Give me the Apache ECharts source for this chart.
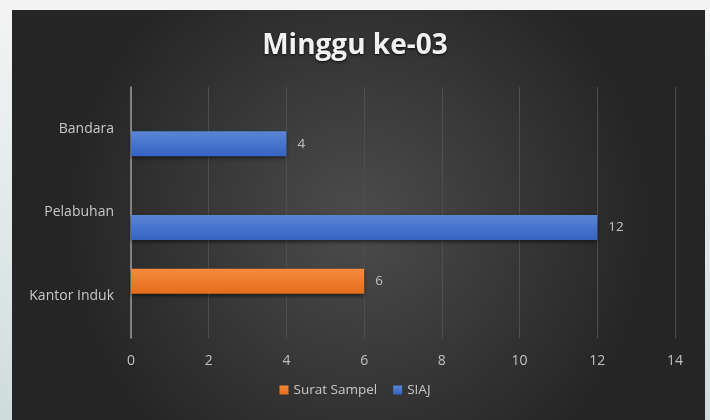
<!DOCTYPE html>
<html>
<head>
<meta charset="utf-8">
<script src="https://cdn.jsdelivr.net/npm/echarts@6/dist/echarts.min.js"></script>
<style>
  html, body { margin: 0; padding: 0; }
  #ec { width: 710px; height: 420px; }
</style>
</head>
<body>
<div id="ec"></div>
<script>
  // kategori dari bawah ke atas
  var categories = ['Kantor Induk', 'Pelabuhan', 'Bandara'];
  var suratSampel = [6, '-', '-'];
  var siaj = ['-', 12, 4];
  var xTicks = { min: 0, max: 14, interval: 2 };

  var font = '"Open Sans", "Noto Sans", sans-serif';
  var ec = echarts.init(document.getElementById('ec'));

  function barColor(top, bottom) {
    return new echarts.graphic.LinearGradient(0, 0, 0, 1, [
      { offset: 0, color: top },
      { offset: 1, color: bottom }
    ]);
  }

  ec.setOption({
    animation: false,
    backgroundColor: new echarts.graphic.LinearGradient(0, 0, 0, 1, [
      { offset: 0, color: '#f4f4f4' },
      { offset: 0.4, color: '#e6ecec' },
      { offset: 1, color: '#cfdcdc' }
    ]),
    graphic: [{
      type: 'rect',
      z: -10,
      silent: true,
      shape: { x: 12, y: 10, width: 693, height: 420 },
      style: {
        fill: new echarts.graphic.RadialGradient(0.5, 0.5, 0.7, [
          { offset: 0, color: '#4c4c4c' },
          { offset: 1, color: '#252525' }
        ])
      }
    }],
    textStyle: { fontFamily: font },
    title: {
      text: 'Minggu ke-03',
      left: 'center',
      top: 27,
      textStyle: {
        color: '#f2f2f2',
        fontSize: 28,
        fontWeight: 'bold',
        fontFamily: font,
        textShadowColor: 'rgba(0,0,0,0.8)',
        textShadowBlur: 3,
        textShadowOffsetY: 1
      }
    },
    legend: {
      bottom: 18,
      left: 'center',
      itemWidth: 9,
      itemHeight: 9,
      itemGap: 16,
      icon: 'rect',
      textStyle: { color: '#c8c8c8', fontSize: 13.5, fontFamily: font },
      data: ['Surat Sampel', 'SIAJ']
    },
    grid: {
      left: 131,
      right: 35,
      top: 87,
      bottom: 82
    },
    xAxis: {
      type: 'value',
      min: xTicks.min,
      max: xTicks.max,
      interval: xTicks.interval,
      axisLine: { show: false },
      axisTick: { show: false },
      axisLabel: { color: '#c0c0c0', fontSize: 14, margin: 16 },
      splitLine: { lineStyle: { color: '#4e4e4e', width: 1 } }
    },
    yAxis: {
      type: 'category',
      data: categories,
      axisLine: { show: true, lineStyle: { color: '#9a9a9a', width: 1.5 } },
      axisTick: { show: false },
      axisLabel: { color: '#c8c8c8', fontSize: 14, margin: 17 }
    },
    series: [
      {
        name: 'Surat Sampel',
        type: 'bar',
        barWidth: 25,
        barGap: '20%',
        data: suratSampel,
        itemStyle: {
          color: barColor('#f58b3c', '#e56d1c'),
          shadowColor: 'rgba(0,0,0,0.55)',
          shadowBlur: 4,
          shadowOffsetY: 2
        },
        label: { show: true, position: 'right', distance: 11, color: '#c0c0c0', fontSize: 13.5 }
      },
      {
        name: 'SIAJ',
        type: 'bar',
        barWidth: 25,
        data: siaj,
        itemStyle: {
          color: barColor('#5a85d6', '#3563c2'),
          shadowColor: 'rgba(0,0,0,0.55)',
          shadowBlur: 4,
          shadowOffsetY: 2
        },
        label: { show: true, position: 'right', distance: 11, color: '#c0c0c0', fontSize: 13.5 }
      }
    ]
  });

  window.addEventListener('resize', ec.resize);
</script>
</body>
</html>
